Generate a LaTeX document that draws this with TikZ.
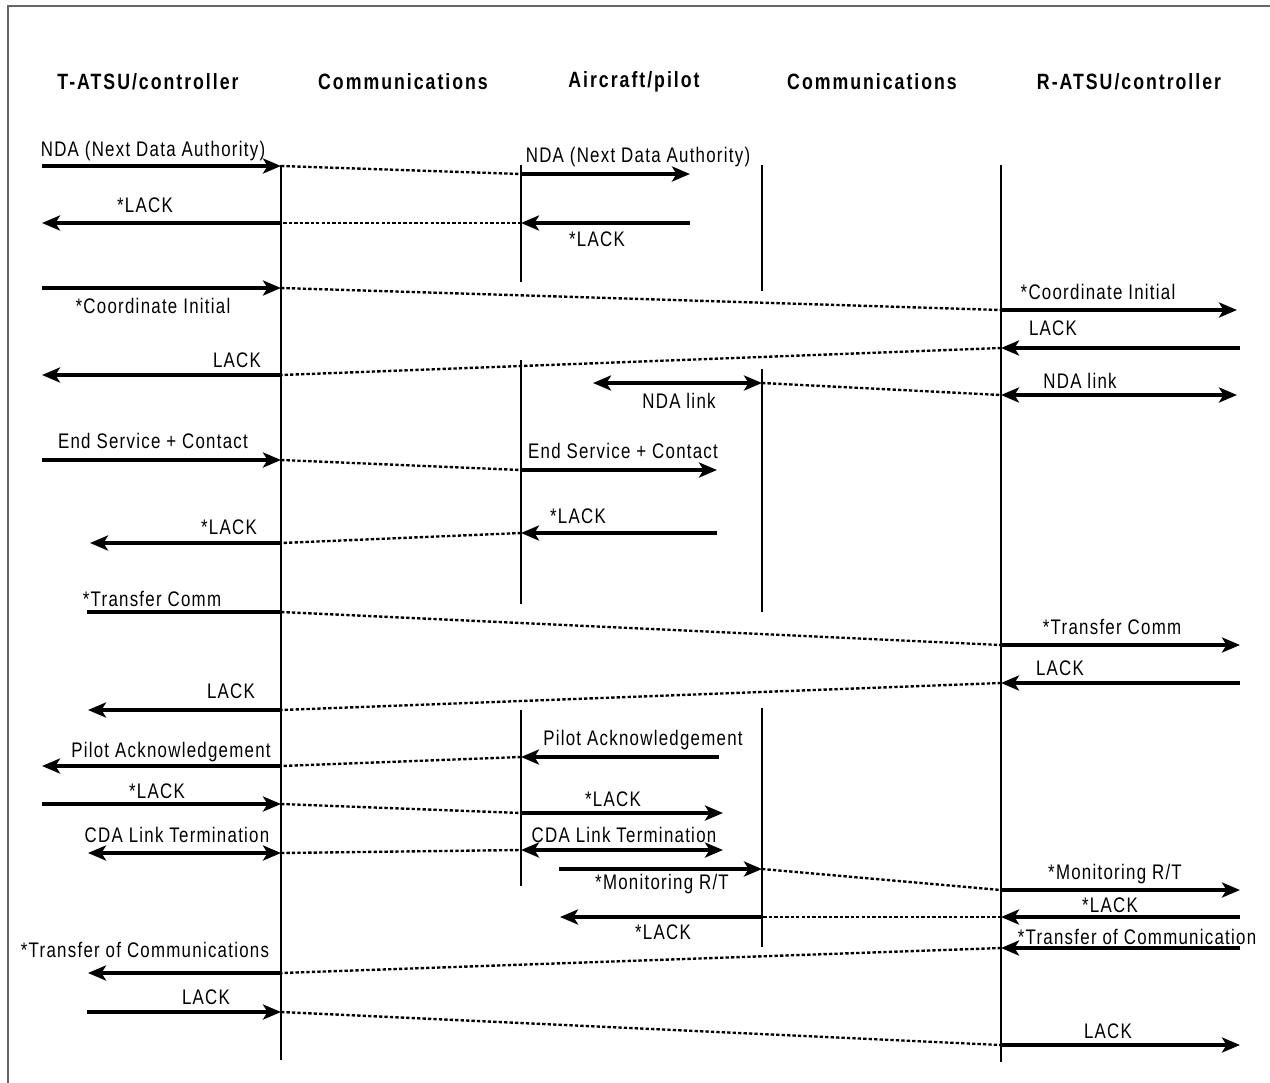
\documentclass[tikz,border=0pt]{standalone}
\usepackage{fontspec}
\setmainfont{Liberation Sans}[FakeStretch=0.8, LetterSpace=6]
\usetikzlibrary{arrows.meta}
\newcommand{\lblfont}{\fontsize{12}{14}\selectfont}
\newcommand{\headfont}{\fontsize{12.6}{15}\selectfont\bfseries\addfontfeatures{LetterSpace=9}}
\begin{document}
\begin{tikzpicture}[x=0.02cm,y=-0.02cm,
  msg/.style={line width=2pt,-{Stealth[length=3.6mm,width=3mm,inset=0.9mm]}},
  dbl/.style={line width=2pt,{Stealth[length=3.6mm,width=3mm,inset=0.9mm]}-{Stealth[length=3.6mm,width=3mm,inset=0.9mm]}},
  bare/.style={line width=2pt},
  relay/.style={line width=1.35pt,dash pattern=on 1.9pt off 1.2pt},
  life/.style={line width=1.1pt},
  lbl/.style={font=\lblfont,inner sep=0pt},
  head/.style={font=\headfont,inner sep=0pt}]
\useasboundingbox (0,0) rectangle (1270,1082);
% frame
\draw[gray!80!black,line width=1.2pt] (8,1100) -- (8,6) -- (1290,6);

% column headings
\node[head] (h1) at (148,82) {T-ATSU/controller};
\node[head] (h2) at (403,82) {Communications};
\node[head] (h3) at (634,82) {Aircraft/pilot};
\node[head] (h4) at (872,82) {Communications};
\node[head] (h5) at (1129,82) {R-ATSU/controller};

% lifelines
\coordinate (A0) at (281,165); \coordinate (A1) at (281,1060);
\coordinate (B0) at (521,165); \coordinate (B1) at (521,282);
\coordinate (B2) at (521,360); \coordinate (B3) at (521,604);
\coordinate (B4) at (521,710); \coordinate (B5) at (521,886);
\coordinate (C0) at (762,165); \coordinate (C1) at (762,291);
\coordinate (C2) at (762,369); \coordinate (C3) at (762,612);
\coordinate (C4) at (762,708); \coordinate (C5) at (762,947);
\coordinate (D0) at (1001,165); \coordinate (D1) at (1001,1062);
\draw[life] (A0) -- (A1);
\draw[life] (B0) -- (B1); \draw[life] (B2) -- (B3); \draw[life] (B4) -- (B5);
\draw[life] (C0) -- (C1); \draw[life] (C2) -- (C3); \draw[life] (C4) -- (C5);
\draw[life] (D0) -- (D1);

% 1 NDA
\coordinate (p1a) at (42,166); \coordinate (p1b) at (281,166);
\coordinate (p1c) at (521,174); \coordinate (p1d) at (690,174);
\draw[msg] (p1a) -- (p1b); \draw[relay] (p1b) -- (p1c); \draw[msg] (p1c) -- (p1d);
\node[lbl] (t1a) at (153,151) {NDA (Next Data Authority)};
\node[lbl] (t1b) at (638,157) {NDA (Next Data Authority)};

% 2 *LACK
\coordinate (p2a) at (690,223); \coordinate (p2b) at (521,223);
\coordinate (p2c) at (281,223); \coordinate (p2d) at (42,223);
\draw[msg] (p2a) -- (p2b); \draw[relay] (p2b) -- (p2c); \draw[msg] (p2c) -- (p2d);
\node[lbl] (t2a) at (145,205) {*LACK};
\node[lbl] (t2b) at (597,239) {*LACK};

% 3 Coordinate Initial
\coordinate (p3a) at (42,288); \coordinate (p3b) at (281,288);
\coordinate (p3c) at (1001,310); \coordinate (p3d) at (1237,310);
\draw[msg] (p3a) -- (p3b); \draw[relay] (p3b) -- (p3c); \draw[msg] (p3c) -- (p3d);
\node[lbl] (t3a) at (153,306) {*Coordinate Initial};
\node[lbl] (t3b) at (1098,292) {*Coordinate Initial};

% 4 LACK
\coordinate (p4a) at (1240,348); \coordinate (p4b) at (1001,348);
\coordinate (p4c) at (281,375); \coordinate (p4d) at (42,375);
\draw[msg] (p4a) -- (p4b); \draw[relay] (p4b) -- (p4c); \draw[msg] (p4c) -- (p4d);
\node[lbl] (t4a) at (1053,328) {LACK};
\node[lbl] (t4b) at (237,360) {LACK};

% 5 NDA link
\coordinate (p5a) at (593,383); \coordinate (p5b) at (762,383);
\coordinate (p5c) at (1001,395); \coordinate (p5d) at (1237,395);
\draw[dbl] (p5a) -- (p5b); \draw[relay] (p5b) -- (p5c); \draw[dbl] (p5c) -- (p5d);
\node[lbl] (t5a) at (679,401) {NDA link};
\node[lbl] (t5b) at (1080,381) {NDA link};

% 6 End Service + Contact
\coordinate (p6a) at (42,460); \coordinate (p6b) at (281,460);
\coordinate (p6c) at (521,470); \coordinate (p6d) at (717,470);
\draw[msg] (p6a) -- (p6b); \draw[relay] (p6b) -- (p6c); \draw[msg] (p6c) -- (p6d);
\node[lbl] (t6a) at (153,441) {End Service + Contact};
\node[lbl] (t6b) at (623,451) {End Service + Contact};

% 7 *LACK
\coordinate (p7a) at (717,533); \coordinate (p7b) at (521,533);
\coordinate (p7c) at (281,543); \coordinate (p7d) at (90,543);
\draw[msg] (p7a) -- (p7b); \draw[relay] (p7b) -- (p7c); \draw[msg] (p7c) -- (p7d);
\node[lbl] (t7a) at (578,516) {*LACK};
\node[lbl] (t7b) at (229,527) {*LACK};

% 8 *Transfer Comm
\coordinate (p8a) at (87,612); \coordinate (p8b) at (281,612);
\coordinate (p8c) at (1001,645); \coordinate (p8d) at (1240,645);
\draw[bare] (p8a) -- (p8b); \draw[relay] (p8b) -- (p8c); \draw[msg] (p8c) -- (p8d);
\node[lbl] (t8a) at (152,599) {*Transfer Comm};
\node[lbl] (t8b) at (1112,627) {*Transfer Comm};

% 9 LACK
\coordinate (p9a) at (1240,683); \coordinate (p9b) at (1001,683);
\coordinate (p9c) at (281,710); \coordinate (p9d) at (88,710);
\draw[msg] (p9a) -- (p9b); \draw[relay] (p9b) -- (p9c); \draw[msg] (p9c) -- (p9d);
\node[lbl] (t9a) at (1060,668) {LACK};
\node[lbl] (t9b) at (231,691) {LACK};

% 10 Pilot Acknowledgement
\coordinate (p10a) at (719,757); \coordinate (p10b) at (521,757);
\coordinate (p10c) at (281,766); \coordinate (p10d) at (42,766);
\draw[msg] (p10a) -- (p10b); \draw[relay] (p10b) -- (p10c); \draw[msg] (p10c) -- (p10d);
\node[lbl] (t10a) at (643,740) {Pilot Acknowledgement};
\node[lbl] (t10b) at (171,752) {Pilot Acknowledgement};

% 11 *LACK
\coordinate (p11a) at (42,804); \coordinate (p11b) at (281,804);
\coordinate (p11c) at (521,813); \coordinate (p11d) at (723,813);
\draw[msg] (p11a) -- (p11b); \draw[relay] (p11b) -- (p11c); \draw[msg] (p11c) -- (p11d);
\node[lbl] (t11a) at (157,791) {*LACK};
\node[lbl] (t11b) at (613,799) {*LACK};

% 12 CDA Link Termination
\coordinate (p12a) at (88,853); \coordinate (p12b) at (281,853);
\coordinate (p12c) at (521,850); \coordinate (p12d) at (723,850);
\draw[dbl] (p12a) -- (p12b); \draw[relay] (p12b) -- (p12c); \draw[dbl] (p12c) -- (p12d);
\node[lbl] (t12a) at (177,835) {CDA Link Termination};
\node[lbl] (t12b) at (624,835) {CDA Link Termination};

% 13 *Monitoring R/T
\coordinate (p13a) at (559,869); \coordinate (p13b) at (762,869);
\coordinate (p13c) at (1001,890); \coordinate (p13d) at (1240,890);
\draw[msg] (p13a) -- (p13b); \draw[relay] (p13b) -- (p13c); \draw[msg] (p13c) -- (p13d);
\node[lbl] (t13a) at (662,884) {*Monitoring R/T};
\node[lbl] (t13b) at (1115,874) {*Monitoring R/T};

% 14 *LACK
\coordinate (p14a) at (1240,917); \coordinate (p14b) at (1001,917);
\coordinate (p14c) at (762,917); \coordinate (p14d) at (560,917);
\draw[msg] (p14a) -- (p14b); \draw[relay] (p14b) -- (p14c); \draw[msg] (p14c) -- (p14d);
\node[lbl] (t14a) at (1110,905) {*LACK};
\node[lbl] (t14b) at (663,932) {*LACK};

% 15 *Transfer of Communication
\coordinate (p15a) at (1240,948); \coordinate (p15b) at (1001,948);
\coordinate (p15c) at (281,973); \coordinate (p15d) at (88,973);
\draw[msg] (p15a) -- (p15b); \draw[relay] (p15b) -- (p15c); \draw[msg] (p15c) -- (p15d);
\node[lbl] (t15a) at (1137,937) {*Transfer of Communication};
\node[lbl] (t15b) at (145,950) {*Transfer of Communications};

% 16 LACK
\coordinate (p16a) at (87,1012); \coordinate (p16b) at (281,1012);
\coordinate (p16c) at (1001,1045); \coordinate (p16d) at (1240,1045);
\draw[msg] (p16a) -- (p16b); \draw[relay] (p16b) -- (p16c); \draw[msg] (p16c) -- (p16d);
\node[lbl] (t16a) at (206,997) {LACK};
\node[lbl] (t16b) at (1108,1031) {LACK};
\end{tikzpicture}
\end{document}
